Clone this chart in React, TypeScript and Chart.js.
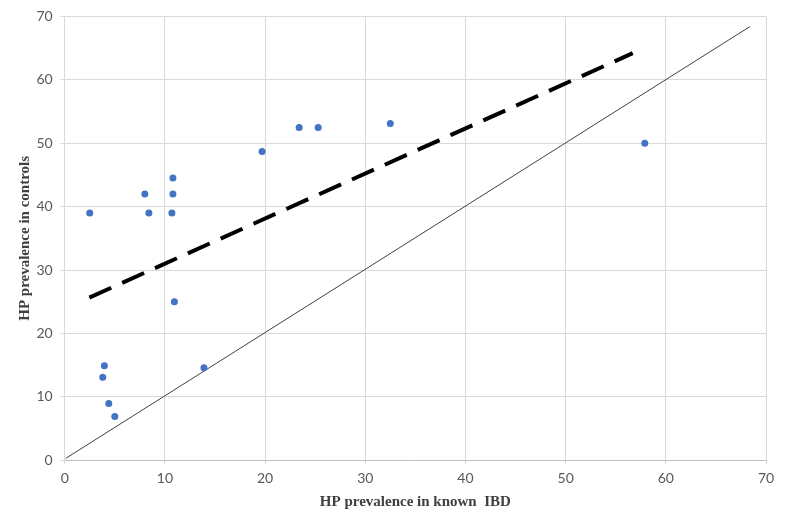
import React, { useEffect, useRef } from "react";
import { Chart, registerables } from "chart.js";

Chart.register(...registerables);

const ibdPrevalence = [2.5, 8.0, 8.4, 10.8, 10.8, 10.7, 19.7, 23.4, 25.3, 32.5, 57.9, 10.95, 3.96, 3.8, 4.4, 5.0, 13.9];
const controlPrevalence = [39, 42, 39, 44.5, 42, 39, 48.7, 52.5, 52.5, 53.1, 50, 25, 14.9, 13.1, 8.95, 6.9, 14.6];
const trendX = [2.46, 56.7];
const trendY = [25.65, 64.2];
const identityX = [0.1, 68.4];
const identityY = [0.3, 68.4];
const xTitle = "HP prevalence in known  IBD";
const yTitle = "HP prevalence in controls";

export default function App() {
  const ref = useRef<HTMLCanvasElement | null>(null);
  useEffect(() => {
    const canvas = ref.current!;
    const chart = new Chart(canvas, {
      type: "scatter",
      data: {
        datasets: [
          {
            label: "Studies",
            data: ibdPrevalence.map((x, i) => ({ x, y: controlPrevalence[i] })),
            backgroundColor: "#4472C4",
            borderWidth: 0,
            pointRadius: 3.5,
            order: 0,
          },
          {
            label: "Trend",
            data: trendX.map((x, i) => ({ x, y: trendY[i] })),
            showLine: true,
            borderColor: "#000000",
            borderWidth: 4,
            borderDash: [24, 12],
            pointRadius: 0,
            order: 1,
          },
          {
            label: "Identity",
            data: identityX.map((x, i) => ({ x, y: identityY[i] })),
            showLine: true,
            borderColor: "#404040",
            borderWidth: 1,
            pointRadius: 0,
            order: 2,
          },
        ],
      },
      options: {
        animation: false,
        responsive: false,
        maintainAspectRatio: false,
        layout: { padding: { left: 0, right: 21, top: 14, bottom: 0 } },
        plugins: { legend: { display: false }, tooltip: { enabled: false } },
        scales: {
          x: {
            type: "linear",
            min: 0,
            max: 70,
            ticks: { stepSize: 10, color: "#595959", font: { family: "Lato", size: 14 }, padding: 6 },
            grid: { color: "#d9d9d9", tickLength: 4 },
            border: { color: "#bfbfbf" },
            title: {
              display: true,
              text: xTitle,
              color: "#404040",
              font: { family: "Liberation Serif", size: 15, weight: "bold" },
              padding: { top: 0, bottom: 13 },
            },
            afterFit: (s: any) => { s.height = 63.7; },
          },
          y: {
            type: "linear",
            min: 0,
            max: 70,
            ticks: { stepSize: 10, color: "#595959", font: { family: "Lato", size: 14 }, padding: 8 },
            grid: { color: "#d9d9d9", tickLength: 4 },
            border: { color: "#d9d9d9" },
            title: {
              display: true,
              text: yTitle,
              color: "#404040",
              font: { family: "Liberation Serif", size: 15, weight: "bold" },
              padding: { top: 16, bottom: 0 },
            },
            afterFit: (s: any) => { s.width = 64.7; },
          },
        },
      },
    });
    return () => chart.destroy();
  }, []);
  return (
    <div style={{ position: "fixed", left: 0, top: 0, width: 787, height: 524, background: "#fff" }}>
      <canvas ref={ref} width={787} height={524} style={{ width: 787, height: 524 }} />
    </div>
  );
}
